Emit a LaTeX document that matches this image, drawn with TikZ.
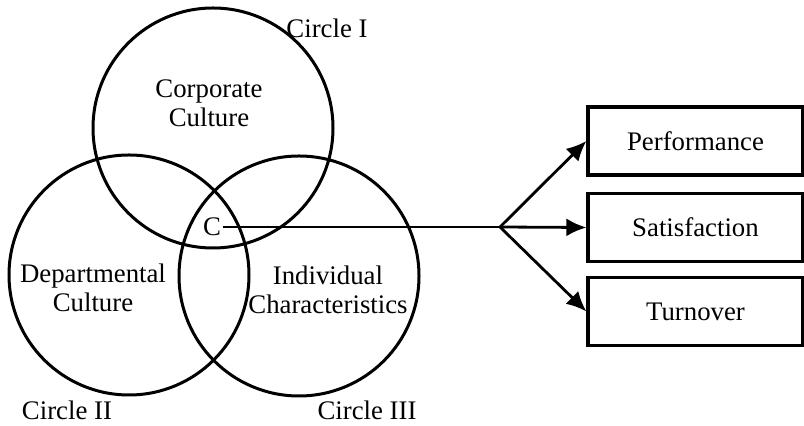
\documentclass[tikz,border=0pt]{standalone}
\usepackage{fontspec}
\setmainfont{Liberation Serif}
\usetikzlibrary{arrows.meta,positioning}
\tikzset{
	circ/.style={draw, circle, line width=1.5pt, minimum size=120pt, inner sep=0},
	lab/.style={align=center, inner sep=1pt},
	outbox/.style={draw, line width=1.6pt, minimum width=107.5pt, minimum height=34pt, inner sep=0},
	flow/.style={-{Latex[length=10pt,width=9pt]}, line width=1.4pt}
}

\begin{document}
\begin{tikzpicture}[x=0.5pt, y=-0.5pt, font=\fontsize{13.4}{14.6}\selectfont]
	\useasboundingbox (0,0) rectangle (804,426);
	% the three circles
	\node[circ] (ci) at (213,128) {};
	\node[circ] (cii) at (129,275) {};
	\node[circ] (ciii) at (299,276) {};
	
	\node[lab] (corp) at (209,103) {Corporate\\Culture};
	\node[lab] (dept) at (93,288) {Departmental\\Culture};
	\node[lab] (indiv) at (328,290) {Individual\\Characteristics};
	\node[lab] (c) at (212,227) {C};
	
	\node[lab] (li) at (327,28) {Circle I};
	\node[lab] (lii) at (67,410) {Circle II};
	\node[lab] (liii) at (367,410) {Circle III};
	
	% outcomes
	\node[outbox] (perf) at (695.5,141) {Performance};
	\node[outbox] (sat) at (695.5,227.5) {Satisfaction};
	\node[outbox] (turn) at (695.5,311.5) {Turnover};
	
	\coordinate (split) at (500,227);
	\draw[line width=1.4pt] (c.east) -- (split);
	\draw[flow] (split) -- (perf.west);
	\draw[flow] (split) -- (sat.west);
	\draw[flow] (split) -- (turn.west);
\end{tikzpicture}
\end{document}
